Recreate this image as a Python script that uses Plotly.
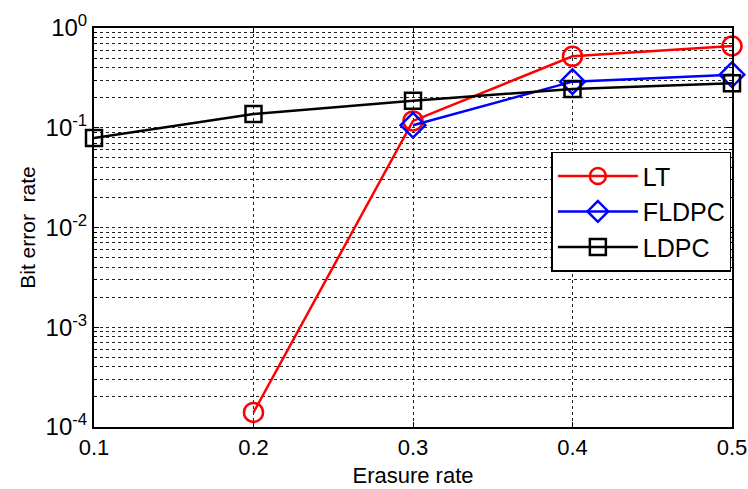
import plotly.graph_objects as go

erasure = [0.1, 0.2, 0.3, 0.4, 0.5]
lt_x = [0.2, 0.3, 0.4, 0.5]
lt_y = [1.4e-4, 0.117, 0.52, 0.66]
fldpc_x = [0.3, 0.4, 0.5]
fldpc_y = [0.106, 0.29, 0.34]
ldpc_x = [0.1, 0.2, 0.3, 0.4, 0.5]
ldpc_y = [0.079, 0.137, 0.187, 0.245, 0.28]

ytick_vals = [1e-4, 1e-3, 1e-2, 1e-1, 1]
ytick_text = ["10<sup>-4</sup>", "10<sup>-3</sup>", "10<sup>-2</sup>", "10<sup>-1</sup>", "10<sup>0</sup>"]
xtick_vals = [0.1, 0.2, 0.3, 0.4, 0.5]
xtick_text = ["0.1", "0.2", "0.3", "0.4", "0.5"]

fig = go.Figure()
fig.add_trace(go.Scatter(x=lt_x, y=lt_y, name="LT", mode="lines+markers", cliponaxis=False,
                         line=dict(color="#ff0000", width=2.5),
                         marker=dict(symbol="circle-open", size=19, color="#ff0000", line=dict(width=2.5))))
fig.add_trace(go.Scatter(x=fldpc_x, y=fldpc_y, name="FLDPC", mode="lines+markers", cliponaxis=False,
                         line=dict(color="#0000ff", width=2.5),
                         marker=dict(symbol="diamond-open", size=19, color="#0000ff", line=dict(width=2.5))))
fig.add_trace(go.Scatter(x=ldpc_x, y=ldpc_y, name="LDPC", mode="lines+markers", cliponaxis=False,
                         line=dict(color="#000000", width=2.5),
                         marker=dict(symbol="square-open", size=16, color="#000000", line=dict(width=2.5))))

font = "Liberation Sans, Arial, sans-serif"
fig.update_layout(
    width=748, height=489,
    margin=dict(l=94, r=16, t=28, b=62, autoexpand=False),
    paper_bgcolor="white", plot_bgcolor="white",
    font=dict(family=font, size=22, color="black"),
    showlegend=True,
    legend=dict(x=0.999, xanchor="right", y=0.69, yanchor="top",
                bgcolor="white", bordercolor="black", borderwidth=1.5,
                font=dict(size=25), itemwidth=80),
)
fig.update_xaxes(
    range=[0.1, 0.5], tickvals=xtick_vals, ticktext=xtick_text,
    showline=True, linecolor="black", linewidth=2, mirror="ticks",
    ticks="inside", ticklen=5, tickcolor="black",
    showgrid=True, gridcolor="#222222", griddash="dot", gridwidth=1,
    zeroline=False, tickfont=dict(size=22),
    title=dict(text="Erasure rate", font=dict(size=22), standoff=8),
)
fig.update_yaxes(
    type="log", range=[-4, 0], tickvals=ytick_vals, ticktext=ytick_text,
    showline=True, linecolor="black", linewidth=2, mirror="ticks",
    ticks="inside", ticklen=5, tickcolor="black",
    showgrid=True, gridcolor="#222222", griddash="dot", gridwidth=1,
    minor=dict(showgrid=True, gridcolor="#222222", griddash="dot", gridwidth=1,
               ticks="inside", ticklen=3, tickcolor="black", dtick="D1"),
    zeroline=False, tickfont=dict(size=24),
    title=dict(text="Bit error  rate", font=dict(size=21), standoff=4),
)
fig.write_html("out.html", config={"displayModeBar": False},
               post_script="document.body.style.margin='0';document.body.style.overflow='hidden';")
